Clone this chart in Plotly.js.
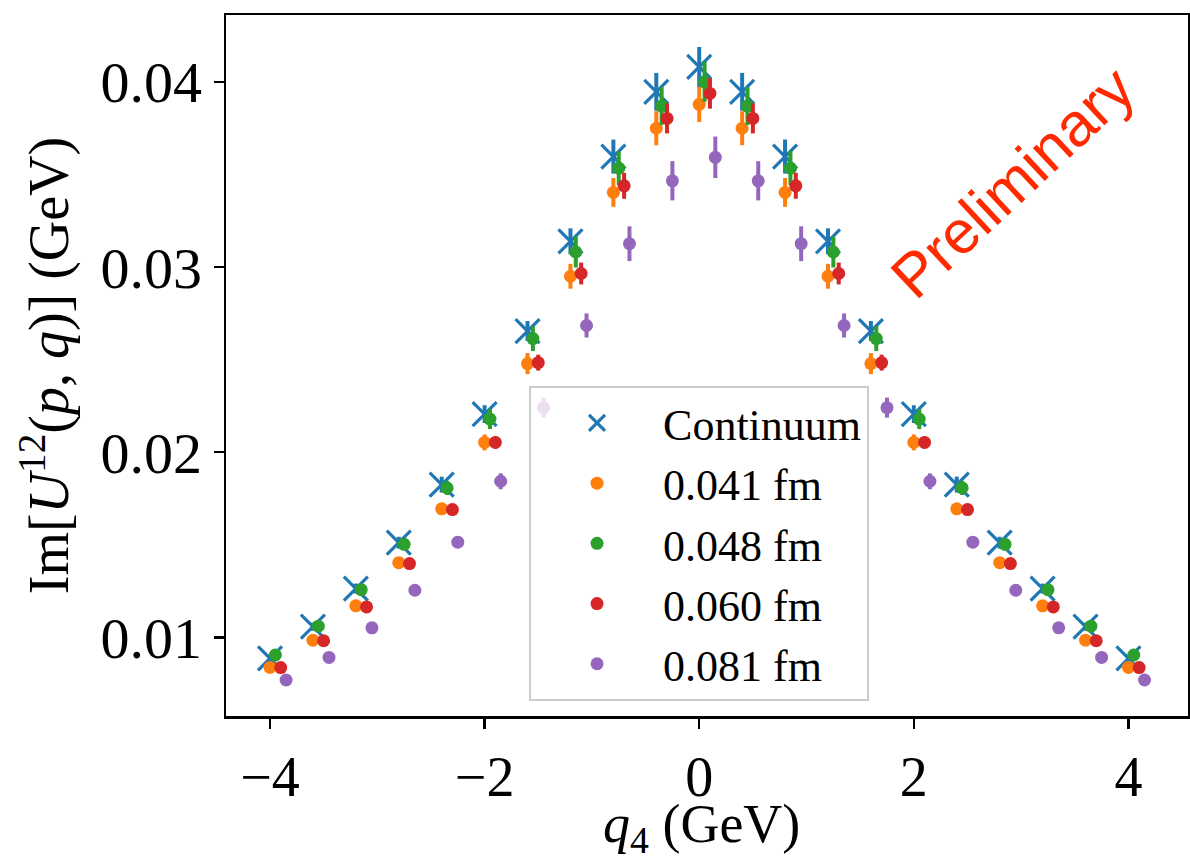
<!DOCTYPE html>
<html>
<head>
<meta charset="utf-8">
<script src="https://cdn.plot.ly/plotly-3.0.1.min.js"></script>
<style>html,body{margin:0;padding:0;background:#fff;}#chart{width:1190px;height:862px;}</style>
</head>
<body>
<div id="chart"></div>
<script>
// q4 values (GeV)
const q4 = [-4.0,-3.6,-3.2,-2.8,-2.4,-2.0,-1.6,-1.2,-0.8,-0.4,0.0,0.4,0.8,1.2,1.6,2.0,2.4,2.8,3.2,3.6,4.0];

const seriesNames = ["Continuum", "0.041 fm", "0.048 fm", "0.060 fm", "0.081 fm"];

// horizontal display shifts per series (GeV)
const shifts = [0.0, 0.0, 0.05, 0.10, 0.15];

const continuum = [0.00886,0.01057,0.01263,0.01511,0.01825,0.02206,0.02655,0.03140,0.03598,0.03948,0.04082,0.03948,0.03598,0.03140,0.02655,0.02206,0.01825,0.01511,0.01263,0.01057,0.00886];
const continuumErr = [0.00020,0.00022,0.00027,0.00032,0.00043,0.00048,0.00054,0.00070,0.00092,0.00102,0.00108,0.00102,0.00092,0.00070,0.00054,0.00048,0.00043,0.00032,0.00027,0.00022,0.00020];

const a041 = [0.00837,0.00984,0.01170,0.01403,0.01694,0.02053,0.02479,0.02951,0.03404,0.03751,0.03880,0.03751,0.03404,0.02951,0.02479,0.02053,0.01694,0.01403,0.01170,0.00984,0.00837];
const a041Err = [0.00016,0.00016,0.00022,0.00027,0.00032,0.00043,0.00057,0.00067,0.00078,0.00092,0.00095,0.00092,0.00078,0.00067,0.00057,0.00043,0.00032,0.00027,0.00022,0.00016,0.00016];

const a048 = [0.00904,0.01060,0.01257,0.01502,0.01807,0.02179,0.02614,0.03082,0.03535,0.03871,0.04002,0.03871,0.03535,0.03082,0.02614,0.02179,0.01807,0.01502,0.01257,0.01060,0.00904];
const a048Err = [0.00016,0.00016,0.00022,0.00027,0.00038,0.00054,0.00067,0.00084,0.00092,0.00102,0.00108,0.00102,0.00092,0.00084,0.00067,0.00054,0.00038,0.00027,0.00022,0.00016,0.00016];

const a060 = [0.00836,0.00981,0.01164,0.01398,0.01690,0.02053,0.02484,0.02966,0.03440,0.03804,0.03939,0.03804,0.03440,0.02966,0.02484,0.02053,0.01690,0.01398,0.01164,0.00981,0.00836];
const a060Err = [0.00011,0.00011,0.00016,0.00016,0.00022,0.00032,0.00043,0.00059,0.00070,0.00081,0.00082,0.00081,0.00070,0.00059,0.00043,0.00032,0.00022,0.00016,0.00016,0.00011,0.00011];

const a081 = [0.00769,0.00891,0.01051,0.01254,0.01514,0.01843,0.02241,0.02685,0.03127,0.03467,0.03594,0.03467,0.03127,0.02685,0.02241,0.01843,0.01514,0.01254,0.01051,0.00891,0.00769];
const a081Err = [0.00011,0.00011,0.00016,0.00022,0.00032,0.00043,0.00054,0.00065,0.00094,0.00106,0.00112,0.00106,0.00094,0.00065,0.00054,0.00043,0.00032,0.00022,0.00016,0.00011,0.00011];

const yTickVals = [0.01, 0.02, 0.03, 0.04];
const yTickText = ["0.01", "0.02", "0.03", "0.04"];
const xTickVals = [-4, -2, 0, 2, 4];
const xTickText = ["\u22124", "\u22122", "0", "2", "4"];

const xTitle = "<i>q</i><sub>4</sub> (GeV)";
const yTitle = "Im[<i>U</i><sup>12</sup>(<i>p</i>, <i>q</i>)] (GeV)";
const watermark = "Preliminary";

const colors = ["#1f77b4", "#ff7f0e", "#2ca02c", "#d62728", "#9467bd"];
const values = [continuum, a041, a048, a060, a081];
const errors = [continuumErr, a041Err, a048Err, a060Err, a081Err];

const serif = "Liberation Serif, Times New Roman, serif";

const traces = values.map((v, i) => {
  const isCont = i === 0;
  return {
    type: "scatter",
    mode: "markers",
    name: seriesNames[i],
    legendgroup: "g" + i,
    x: q4.map(q => q + shifts[i]),
    y: v,
    error_y: {type: "data", array: errors[i], visible: true, color: colors[i], thickness: 4, width: 0},
    marker: isCont
      ? {symbol: "x-thin", size: 24, color: colors[i], line: {color: colors[i], width: 3.2}}
      : {symbol: "circle", size: 13, color: colors[i], line: {width: 0}},
    cliponaxis: false
  };
});

const layout = {
  width: 1190, height: 862,
  margin: {l: 226, r: 2, t: 15, b: 146},
  paper_bgcolor: "#ffffff", plot_bgcolor: "#ffffff",
  font: {family: serif, color: "#000000", size: 58},
  showlegend: true,
  legend: {
    x: 0.315, y: 0.471, xanchor: "left", yanchor: "top",
    bgcolor: "rgba(255,255,255,0.8)", bordercolor: "#cccccc", borderwidth: 2,
    font: {family: serif, size: 44, color: "#000000"},
    itemwidth: 122, tracegroupgap: 0, traceorder: "grouped"
  },
  xaxis: {
    range: [-4.41, 4.555], tickvals: xTickVals, ticktext: xTickText,
    showgrid: false, zeroline: false, showline: true, mirror: true,
    linecolor: "#000", linewidth: 2.5, ticks: "outside", ticklen: 10, tickwidth: 2.5, tickcolor: "#000",
    tickfont: {family: serif, size: 56}
  },
  yaxis: {
    range: [0.005744, 0.04363], tickvals: yTickVals, ticktext: yTickText,
    showgrid: false, zeroline: false, showline: true, mirror: true,
    linecolor: "#000", linewidth: 2.5, ticks: "outside", ticklen: 10, tickwidth: 2.5, tickcolor: "#000",
    tickfont: {family: serif, size: 58},
    title: {text: yTitle, font: {family: serif, size: 56}, standoff: 14}
  },
  annotations: [
    {
      text: xTitle, xref: "paper", yref: "paper",
      x: (701 - 226) / 962, y: (716 - 827) / 701, xanchor: "center", yanchor: "middle",
      showarrow: false, font: {family: serif, size: 54, color: "#000000"}
    },
    {
      text: watermark, xref: "paper", yref: "paper",
      x: (1013 - 226) / 962, y: (716 - 182) / 701, xanchor: "center", yanchor: "middle",
      showarrow: false, textangle: -43,
      font: {family: "Liberation Sans, Arial, sans-serif", size: 61, color: "#ff2a00"}
    }
  ]
};

Plotly.newPlot("chart", traces, layout, {staticPlot: true, displayModeBar: false});
</script>
</body>
</html>
